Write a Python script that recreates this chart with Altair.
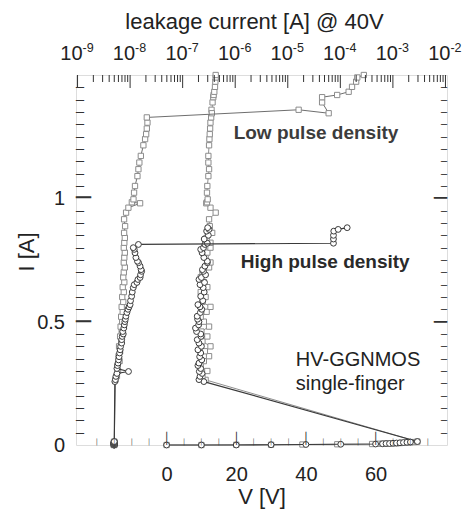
import altair as alt
import pandas as pd

FONT = "Liberation Sans"
INK = "#222222"

# ---------------------------------------------------------------
# Low pulse density: TLP voltage [V], TLP current [A] and the
# leakage current measured at 40 V after each pulse [A]
# ---------------------------------------------------------------
low_v = [0, 10, 20, 30, 39, 49, 59, 61, 62, 63, 64, 65, 66, 67, 68, 69, 70, 71, 72,
         11.2, 10.3, 11.7, 9.8, 10.7, 12.2, 11.0, 12.6, 10.3, 11.7,
         10.0, 12.2, 10.7, 9.8, 11.5, 12.6, 10.3, 11.2, 9.8, 11.7,
         10.7, 9.8, 10.3, 12.2, 12.6, 11.2, 11.7, 12.6, 12.6, 11.5,
         13.1, 12.4, 12.2, 14.1, 12.6, 11.4, 11.6, 11.8, 11.6, 11.7,
         12.0, 12.2, 12.0, 12.0, 12.2, 12.3, 12.4, 12.5, 12.6, 12.8,
         12.9, 13.0, 13.2, 13.4, 13.5, 13.7, 13.9, 14.0, 14.1, 14.1]
low_i = [0.0, 0.0, 0.001, 0.001, 0.002, 0.003, 0.004, 0.005, 0.005, 0.006,
         0.006, 0.007, 0.007, 0.008, 0.009, 0.010, 0.011, 0.012, 0.014,
         0.264, 0.28, 0.30, 0.32, 0.34, 0.36, 0.38, 0.40, 0.42, 0.44,
         0.46, 0.48, 0.50, 0.52, 0.54, 0.56, 0.58, 0.60, 0.62, 0.64,
         0.66, 0.68, 0.70, 0.72, 0.74, 0.76, 0.78, 0.80, 0.82, 0.84,
         0.86, 0.887, 0.915, 0.942, 0.962, 0.98, 0.984, 0.996, 1.023, 1.05,
         1.09, 1.118, 1.145, 1.172, 1.215, 1.24, 1.26, 1.283, 1.307, 1.328,
         1.359, 1.345, 1.389, 1.41, 1.419, 1.432, 1.452, 1.473, 1.49, 1.50]
low_leak = [4.9e-9, 5.0e-9, 4.9e-9, 5.0e-9, 5.0e-9, 4.9e-9, 5.0e-9, 5.0e-9, 4.9e-9, 5.0e-9,
            5.0e-9, 5.0e-9, 4.9e-9, 5.0e-9, 5.0e-9, 5.0e-9, 4.9e-9, 5.0e-9, 5.0e-9,
            5.25e-9, 5.62e-9, 5.89e-9, 5.75e-9, 6.31e-9, 6.03e-9, 6.46e-9, 6.17e-9, 6.76e-9, 6.46e-9,
            6.92e-9, 6.61e-9, 7.08e-9, 6.76e-9, 7.24e-9, 6.92e-9, 7.41e-9, 7.08e-9, 7.59e-9, 7.24e-9,
            7.76e-9, 7.41e-9, 7.59e-9, 7.94e-9, 7.59e-9, 7.76e-9, 7.94e-9, 7.59e-9, 7.76e-9, 7.94e-9,
            7.69e-9, 8.04e-9, 7.69e-9, 8.39e-9, 9.29e-9, 1.55e-8, 1.08e-8, 1.16e-8, 1.19e-8, 1.24e-8,
            1.38e-8, 1.44e-8, 1.50e-8, 1.60e-8, 1.79e-8, 1.93e-8, 2.02e-8, 2.08e-8, 2.14e-8, 2.08e-8,
            1.61e-5, 6.0e-5, 4.5e-5, 4.5e-5, 8.7e-5, 1.44e-4, 1.67e-4, 2.0e-4, 2.1e-4, 2.8e-4]

# ---------------------------------------------------------------
# High pulse density
# ---------------------------------------------------------------
high_v = [0, 10, 20, 30, 40, 50, 60, 62, 63, 64, 65, 66, 67, 68, 69, 70, 72,
          10.7, 9.3, 9.6, 10.2, 9.4, 9.8, 9.0, 9.3, 10.1, 9.5,
          9.8, 9.0, 10.0, 9.3, 8.8, 9.9, 9.8, 8.6, 8.3, 9.2,
          9.3, 8.9, 8.8, 9.7, 10.1, 9.6, 9.0, 10.4, 9.8, 10.8,
          10.5, 9.6, 10.9, 9.3, 10.0, 11.2, 10.6, 10.3, 11.0, 11.7,
          11.7, 10.7, 10.2, 9.8, 10.6, 11.0,
          11.7, 10.8, 12.0, 11.5, 12.2, 11.8]
high_i = [0.0, 0.0, 0.0, 0.001, 0.002, 0.003, 0.004, 0.005, 0.006, 0.006,
          0.007, 0.008, 0.009, 0.010, 0.011, 0.012, 0.014,
          0.257, 0.265, 0.278, 0.29, 0.298, 0.31, 0.322, 0.332, 0.345, 0.358,
          0.373, 0.386, 0.40, 0.413, 0.427, 0.44, 0.45, 0.46, 0.474, 0.487,
          0.50, 0.51, 0.522, 0.537, 0.55, 0.56, 0.569, 0.585, 0.603, 0.62,
          0.638, 0.65, 0.659, 0.671, 0.679, 0.69, 0.704, 0.711, 0.725, 0.739,
          0.745, 0.76, 0.779, 0.793, 0.80, 0.813,
          0.818, 0.835, 0.85, 0.867, 0.874, 0.881]
high_leak = [5.0e-9, 4.9e-9, 5.0e-9, 5.0e-9, 4.9e-9, 5.0e-9, 5.0e-9, 5.0e-9, 4.9e-9, 5.0e-9,
             5.0e-9, 5.0e-9, 4.9e-9, 5.0e-9, 5.0e-9, 5.0e-9, 5.0e-9,
             5.13e-9, 5.25e-9, 5.37e-9, 5.62e-9, 9.33e-9, 5.62e-9, 5.75e-9, 5.89e-9, 6.03e-9, 6.17e-9,
             6.31e-9, 6.46e-9, 6.61e-9, 6.92e-9, 6.92e-9, 7.08e-9, 7.41e-9, 7.24e-9, 7.59e-9, 7.76e-9,
             7.94e-9, 8.13e-9, 8.32e-9, 8.71e-9, 9.12e-9, 9.55e-9, 1.0e-8, 1.02e-8, 1.07e-8, 1.10e-8,
             1.15e-8, 1.20e-8, 1.35e-8, 1.41e-8, 1.55e-8, 1.58e-8, 1.66e-8, 1.62e-8, 1.55e-8, 1.45e-8,
             1.38e-8, 1.29e-8, 1.24e-8, 1.20e-8, 1.15e-8, 1.44e-8,
             7.4e-5, 7.4e-5, 7.4e-5, 7.5e-5, 9.1e-5, 1.35e-4]

# ---------------------------------------------------------------
# Axis tick positions
# ---------------------------------------------------------------
v_labels = [0, 20, 40, 60]
v_minor = [-20, -15, -10, -5, 5, 10, 15, 25, 30, 35, 45, 50, 55, 65, 70, 75]
i_labels = [0, 0.5, 1]
i_label_text = ["0", "0.5", "1"]
i_major = [0.5, 1.0]
i_minor = [round(0.05 * k, 2) for k in range(1, 30) if k % 10]
leak_exponents = [-9, -8, -7, -6, -5, -4, -3, -2]
leak_minor = [m * 10.0 ** e for e in range(-9, -2) for m in range(2, 10)]

W, H = 371, 370


def pulses(v, i, leak):
    return pd.DataFrame({"step": range(len(v)), "V": v, "I": i, "leak": leak})


low = pulses(low_v, low_i, low_leak)
high = pulses(high_v, high_i, high_leak)

# the two x scales carry explicit domains on every layer that uses them
v_scale = alt.Scale(domain=[-26, 80.5], nice=False, zero=False)
leak_scale = alt.Scale(type="log", domain=[9.35e-10, 1.07e-2], nice=False)
i_scale = alt.Scale(domain=[0, 1.5], nice=False, zero=False)

v_axis = alt.Axis(orient="bottom", values=v_labels, ticks=False, tickSize=0, domain=False,
                  grid=False, labelFont=FONT, labelFontSize=20, labelColor=INK,
                  labelPadding=35, labelBaseline="alphabetic", labelFlush=False,
                  title="V [V]", titleFont=FONT, titleFontSize=22, titleFontWeight="normal",
                  titleColor=INK, titleBaseline="alphabetic", titleAlign="center",
                  titleX=W / 2, titleY=58)
leak_axis = alt.Axis(orient="top", labels=False, ticks=False, tickSize=0, domain=False,
                     grid=False, title="leakage current [A] @ 40V", titleFont=FONT,
                     titleFontSize=22, titleFontWeight="normal", titleColor=INK,
                     titleBaseline="alphabetic", titleAlign="center", titleX=178, titleY=-47)

LOW_C = "#8c8c8c"
HIGH_C = "#3a3a3a"
TICK_C = "#333333"
MONO = "DejaVu Sans Mono"


def ychan(field="I"):
    return alt.Y(f"{field}:Q", scale=i_scale, axis=None)


def series(df, field, scale, axis, shape, stroke, line_color, line_w, size):
    line = alt.Chart(df).mark_line(color=line_color, strokeWidth=line_w).encode(
        x=alt.X(f"{field}:Q", scale=scale, axis=axis), y=ychan(), order="step:Q")
    pts = alt.Chart(df).mark_point(shape=shape, size=size, filled=True, fill="white",
                                   stroke=stroke, strokeWidth=1, opacity=1).encode(
        x=alt.X(f"{field}:Q", scale=scale, axis=None), y=ychan(), order="step:Q")
    return [line, pts]


def one(col, vals):
    return pd.DataFrame({col: vals})


def glyphs(col, vals, glyph):
    return pd.DataFrame({col: vals, "g": [glyph] * len(vals)})


# inward ticks on the left/right frame: box-drawing dashes, one cell = 0.602 em wide
def yticks(vals, x, align, length):
    return alt.Chart(glyphs("yt", vals, "\u2500")).mark_text(
        align=align, baseline="middle", font=MONO, fontSize=length / 0.602,
        color=TICK_C, dy=1).encode(y=ychan("yt"), x=alt.value(x), text="g:N")


# inward ticks on the bottom frame: vertical box-drawing bars, one cell = 1.164 em tall
def vticks(vals, length):
    fs = length / 1.164
    return alt.Chart(glyphs("xt", vals, "\u2502")).mark_text(
        align="center", baseline="alphabetic", font=MONO, fontSize=fs,
        color=TICK_C).encode(
        x=alt.X("xt:Q", scale=v_scale, axis=None), y=alt.value(H - 0.236 * fs), text="g:N")


def leakticks(vals, length):
    return alt.Chart(one("lt", vals)).mark_rule(color=TICK_C, strokeWidth=1).encode(
        x=alt.X("lt:Q", scale=leak_scale, axis=None), y=alt.value(0), y2=alt.value(length))


one_row = pd.DataFrame({"k": [0]})


def note(text, v, i, size, weight, color):
    return alt.Chart(one_row).mark_text(
        text=text, align="left", baseline="alphabetic", font=FONT, fontSize=size,
        fontWeight=weight, color=color, lineBreak="\n", lineHeight=24).encode(
        x=alt.XDatum(v, type="quantitative", scale=v_scale, axis=None),
        y=alt.YDatum(i, type="quantitative", scale=i_scale, axis=None))


# current axis: labels and title drawn as text beside the frame
i_lab_df = pd.DataFrame({"yt": i_labels, "txt": i_label_text})
i_labels_layer = alt.Chart(i_lab_df).mark_text(
    align="right", baseline="middle", font=FONT, fontSize=20, color=INK, dy=1).encode(
    y=ychan("yt"), x=alt.value(-11), text="txt:N")
i_title_layer = alt.Chart(one_row).mark_text(
    text="I [A]", angle=270, align="center", baseline="alphabetic", font=FONT,
    fontSize=22, color=INK).encode(x=alt.value(-42), y=alt.value(177))

# top axis tick labels: "10" with a raised exponent
exp_df = pd.DataFrame({"pos": [10.0 ** e for e in leak_exponents],
                       "base": ["10"] * len(leak_exponents),
                       "exp": [str(e) for e in leak_exponents]})
top_base = alt.Chart(exp_df).mark_text(align="right", baseline="alphabetic", font=FONT,
                                       fontSize=20, color=INK, dx=5).encode(
    x=alt.X("pos:Q", scale=leak_scale, axis=None), y=alt.value(-15), text="base:N")
top_exp = alt.Chart(exp_df).mark_text(align="left", baseline="alphabetic", font=FONT,
                                      fontSize=12.5, color=INK, dx=5).encode(
    x=alt.X("pos:Q", scale=leak_scale, axis=None), y=alt.value(-23.5), text="exp:N")

layers = [
    # I-V curves against the bottom (voltage) axis
    *series(low, "V", v_scale, v_axis, "square", LOW_C, "#8f8f8f", 1, 28),
    *series(high, "V", v_scale, None, "circle", HIGH_C, "#3a3a3a", 1.2, 34),
    # leakage current against the top (log) axis
    *series(low, "leak", leak_scale, leak_axis, "square", LOW_C, "#6e6e6e", 1, 28),
    *series(high, "leak", leak_scale, None, "circle", HIGH_C, "#3a3a3a", 1.2, 34),
    leakticks([10.0 ** e for e in leak_exponents], 13), leakticks(leak_minor, 7),
    i_labels_layer, i_title_layer,
    top_base, top_exp,
    note("Low pulse density", 19.25, 1.242, 19, "bold", "#3c3c3c"),
    note("High pulse density", 21.3, 0.7195, 19, "bold", "#2a2a2a"),
    note("HV-GGNMOS\nsingle-finger", 37.1, 0.321, 20, "normal", INK),
    # inward ticks on the left, right and bottom sides
    yticks(i_major, 0, "left", 15), yticks(i_minor, 0, "left", 8),
    yticks(i_major, W, "right", 13), yticks(i_minor, W, "right", 6),
    vticks(v_labels, 13), vticks(v_minor, 7),
]

chart = alt.layer(*layers).resolve_scale(x="independent").properties(
    width=W, height=H,
    padding={"left": 76, "top": 75, "right": 466 - 76 - W, "bottom": 512 - 75 - H},
    autosize=alt.AutoSizeParams(type="none"),
).configure_view(stroke="#2a2a2a", strokeWidth=1.5).configure(background="white")

chart.save("out.html", embed_options={"renderer": "svg", "actions": False})
